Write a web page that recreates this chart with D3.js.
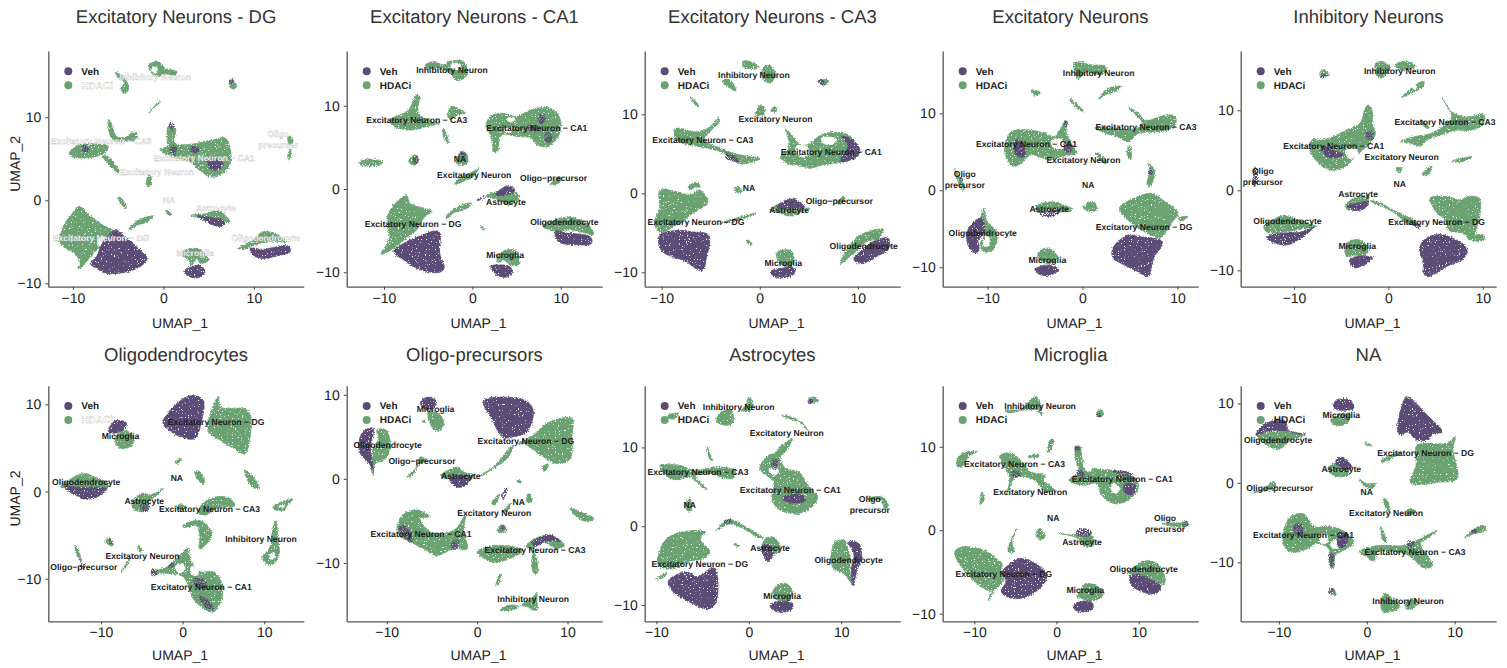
<!DOCTYPE html>
<html>
<head>
<meta charset="utf-8">
<script src="https://cdn.jsdelivr.net/npm/d3@7"></script>
<style>
  body { margin: 0; background: #fff; }
  text { font-family: "Liberation Sans", Arial, sans-serif; text-rendering: geometricPrecision; }
</style>
</head>
<body>
<div id="chart"></div>
<script>
// Label order used by every *LabelX / *LabelY array below
const cellTypes = ["Inhibitory Neuron", "Excitatory Neuron \u2212 CA3", "Excitatory Neuron \u2212 CA1", "Excitatory Neuron",
    "Oligo\u2212precursor", "NA", "Astrocyte", "Oligodendrocyte", "Excitatory Neuron \u2212 DG", "Microglia"];
const legendNames = ["Veh", "HDACi"];
const titles = ["Excitatory Neurons - DG", "Excitatory Neurons - CA1", "Excitatory Neurons - CA3", "Excitatory Neurons", "Inhibitory Neurons",
    "Oligodendrocytes", "Oligo-precursors", "Astrocytes", "Microglia", "NA"];
const ticks = [-10, 0, 10];

// Excitatory Neurons - DG
const dgLabelX = [-.9, -6.9, 4.5, -.7, 12.7, .6, 5.8, 11.3, -6.9, 3.5];
const dgLabelY = [14.8, 7.2, 5.1, 3.4, 7.3, 0, -.9, -4.5, -4.6, -6.3];
const dgHdaci = [
    [[-9.3,-.7],[-8.4,-1.6],[-7,-2.8],[-5.3,-4],[-7,-5.6],[-8.1,-6.8],[-9,-8],[-9.5,-8.2],[-9.2,-7.6],[-9.8,-6.4],[-11.4,-5.2],[-11.1,-3.2],[-10.1,-1.6]],
    [[-10.4,5.7],[-9.4,6.6],[-7.7,6.8],[-6.1,6.5],[-6.3,5.9],[-7.4,5.3],[-9.2,5.1],[-10.2,5.3]],
    [[-6.7,5.3],[-6.3,5.4],[-4.9,3.5],[-5.1,3.4]],
    [[-6.1,9.6],[-5.9,9.6],[-5.2,7.7],[-4.2,7.6],[-3.4,8.2],[-3,8.1],[-3,7.3],[-3.9,7.1],[-5.6,7.3]],
    [[.55,8.9],[1.3,8.7],[1.3,6.9],[2.6,6.7],[5.5,7.3],[6.8,7.5],[7.4,6.1],[7.4,4.5],[6.6,3.3],[5.3,2.8],[4.1,3.5],[3.1,4.5],[2.2,4.9],[.4,5.5],[-.4,6.1],[.4,6.5],[.4,7.7]],
    [[-1.66,16.3],[-.55,16.7],[.2,15.9],[1.5,15.5],[1.3,15.1],[0,15.2],[-.55,14.9],[-1.3,15.3],[-1.5,15.7]],
    [[-5.2,15.4],[-4.1,14.4],[-3.9,13.2],[-4.5,12.9],[-4.7,13.5],[-4.3,14.2],[-5.2,15]],
    [[-1.5,10.6],[-.4,12],[-.3,11.9],[-1.3,10.9],[-1.6,10.4]],
    [[7.4,14.5],[7.9,14.2],[8.1,13.7],[7.7,13.4],[7.3,13.7]],
    [[-1.9,2.2],[-1.6,3],[-1.4,2.9],[-1.4,1.8],[-1.8,1.7]],
    [[13.8,7.7],[14.2,7.6],[14.3,6.9],[14,6.7],[13.8,7]],
    [[14,6.2],[14.1,6],[13.9,4.9],[13.7,4.9]],
    [[-5,.4],[-4.6,.2],[-4.1,-.9],[-4.4,-.8],[-5,.1]],
    [[-3.9,-3.6],[-2.8,-2.4],[-1.1,-1.9],[-1.8,-2.6],[-2.9,-3],[-3.8,-3.6]],
    [[.3,-1.2],[.9,-1.7],[.6,-1.8],[.3,-1.4]],
    [[3,-1.8],[4.8,-1.6],[5.9,-1.2],[7,-2],[7.4,-2.7],[6.7,-2.6],[5.5,-2],[4.8,-2.2]],
    [[8.3,-5.8],[9.9,-4.8],[11,-3.8],[12.3,-4],[13.6,-5],[12,-4.9],[10,-5.4],[9,-5.9]],
    [[2.2,-6.2],[3.1,-5.8],[4.1,-6],[5,-7.2],[4.1,-7.6],[3.7,-7],[3.1,-7.8],[2.6,-7],[2.2,-6.8]]
];
const dgVeh = [
    [[-5.3,-3.6],[-4.05,-4.6],[-2.6,-6],[-1.8,-7],[-2.6,-8],[-4.4,-8.7],[-6.3,-8.8],[-7.4,-8.2],[-8.1,-7.6],[-7.4,-6.8],[-6.8,-5.2],[-5.9,-4]],
    [[.7,9.3],[1.2,9],[1,8.5],[.7,8.7]],
    [[.8,6.5],[1.4,6.4],[1.2,5.4],[.7,5.7]],
    [[3.1,6.5],[4,6.2],[3.6,5.7],[3,5.9]],
    [[4.9,4.8],[6,4.9],[6.6,4.4],[6,3.7],[5.3,3.7]],
    [[-9,6.5],[-8.3,6.6],[-8.4,5.9],[-9,6]],
    [[7.4,14.6],[7.8,14.4],[7.6,14.1],[7.3,14.2]],
    [[3.7,-1.9],[4.8,-2],[5.9,-2.2],[6.8,-2.6],[6.5,-3.1],[5.5,-3],[4.8,-2.6]],
    [[9.6,-5.8],[11,-5.9],[13.8,-5.5],[14,-6.2],[12.5,-6.7],[10.9,-7],[9.8,-6.5]],
    [[2.3,-8.5],[3.1,-8],[4.1,-7.9],[4.6,-8.6],[3.9,-9.3],[2.9,-9.2]]
];
const dgGaps = [
    [[1.3,7.6],[1.9,7.4],[1.7,6.9],[1.3,7]],
    [[-7.2,-4.7],[-6.6,-4.4],[-6.2,-4.9],[-7.2,-5.5]],
    [[-1.2,16],[-.7,16],[-.8,15.4],[-1.2,15.4]]
];

// Excitatory Neurons - CA1
const ca1LabelX = [-2.3, -6.3, 7.3, .2, 9.2, -1.4, 3.8, 10.4, -6.7, 3.7];
const ca1LabelY = [14.3, 8.3, 7.3, 1.7, 1.3, 3.6, -1.6, -4, -4.2, -7.9];
const ca1Hdaci = [
    [[-5.4,14.8],[-4.4,15.3],[-3.3,14.9],[-2.7,15.3],[-1,15.3],[-.6,13.7],[-1.8,13],[-2.3,13.7],[-3.5,14.5],[-4.8,14.4]],
    [[-9.3,8.3],[-8.2,8.9],[-7.2,9.5],[-6.3,11.4],[-6,11.1],[-6.1,9.1],[-4.6,8.1],[-3.7,7.9],[-5.2,7.5],[-6.7,7.1],[-8.4,7.3],[-9.1,7.7]],
    [[-2.8,8.9],[-2.3,9.9],[-1.6,9.7],[-.8,9.1],[-1.8,8.9],[-2.5,8.3]],
    [[-3.4,7.1],[-3.2,7.1],[-2.7,5.5],[-2.9,5.5]],
    [[-12.8,3.2],[-11.8,3.6],[-10.1,3.2],[-11,2.8],[-12.7,2.9]],
    [[-7.2,3.4],[-6.5,4.1],[-6.1,3.5],[-6.5,2.9],[-7.1,3.1]],
    [[-1.6,4.1],[-1.2,4.5],[-.6,4.1],[-.6,3.1],[-1.8,3.1]],
    [[-2,.5],[-1.6,1.2],[.1,2.1],[.7,2.5],[.1,1.5],[-.6,1.1],[-1.6,.7]],
    [[8.8,.5],[9.9,1.5],[10,.9],[9.2,.5]],
    [[1.6,-.9],[2.9,-.3],[3.9,-.7],[4.6,-.3],[5.3,-.9],[4.6,-1.7],[3.9,-1.9],[2.9,-1.3]],
    [[-3,-3.3],[-1.4,-2],[-.1,-1.7],[-.6,-2.3],[-2.2,-2.9],[-2.9,-3.5]],
    [[-7.4,-.7],[-7.1,-1.7],[-4.6,-2.7],[-5.4,-3.3],[-6.3,-4.9],[-7.4,-5.8],[-8.9,-7.1],[-10.3,-7.8],[-9.5,-6.1],[-9.6,-3.3],[-8.9,-1.9],[-7.8,-.9]],
    [[.9,-4.5],[1.4,-4.8],[1.2,-4.9],[.9,-4.6]],
    [[2.8,-8.1],[3.9,-7.3],[5,-7.5],[5.3,-9.1],[4.3,-9.1],[3.5,-8.5],[3,-8.9]],
    [[8,-4.5],[9.9,-3.5],[11.8,-3.5],[13.3,-4.5],[13.7,-5.5],[12.9,-5.3],[11.1,-4.9],[9.5,-5.1]],
    [[2,8.7],[3.3,9.1],[5,8.7],[6.2,9.3],[7.7,9.8],[9.2,9.5],[10,8.1],[9.7,6.3],[8.6,5.1],[7.3,5.3],[6.7,6.1],[5,6.3],[3.3,6.5],[2.8,4.5],[2.4,4.5],[2.2,5.9],[1.6,7.7]]
];
const ca1Veh = [
    [[2.6,-.7],[3.1,-.1],[4.1,.4],[4.8,-.1],[4.5,-.5],[3.7,-.7]],
    [[.5,-1.3],[1.6,-.8],[1.6,-.9],[.5,-1.4]],
    [[-8.9,-7.5],[-7.4,-6.3],[-6.3,-5.8],[-3.8,-5.1],[-3.7,-7.7],[-3.2,-9.5],[-3.7,-10],[-5.9,-9.7],[-7.8,-8.5]],
    [[2.1,-9.3],[3.1,-9.1],[4.3,-9.4],[4.5,-10.1],[3.7,-10.6],[2.6,-10.2]],
    [[9.4,-5.1],[10.7,-5.3],[13.3,-5.7],[13.5,-6.5],[11.8,-6.7],[9.7,-6.3]],
    [[7.6,8.9],[8.2,8.8],[8,7.8],[7.6,8]],
    [[8.4,6.8],[9,6.4],[8.7,5.6],[8.2,5.9]],
    [[6.3,7.6],[7.4,7.5],[7.3,7],[6.4,7.1]],
    [[-6.7,3.8],[-6.2,3.9],[-6.3,3],[-6.7,3.1]],
    [[-1.4,4.4],[-.8,4.3],[-.9,3.8],[-1.4,3.9]]
];
const ca1Gaps = [
    [[4,8.5],[4.8,8.5],[4.6,8.1],[4,8.2]],
    [[3.6,7.2],[4.5,7.3],[4.3,6.8],[3.6,6.9]],
    [[-2.4,15],[-1.4,15],[-1.5,14.4],[-2.4,14.5]]
];

// Excitatory Neurons - CA3
const ca3LabelX = [-.6, -5.8, 7.3, 1.6, 8.1, -1.1, 3, 10.6, -6.5, 2.4];
const ca3LabelY = [15, 6.7, 5.2, 9.4, -1, .7, -2.1, -6.7, -3.6, -8.8];
const ca3Hdaci = [
    [[-1.7,16.7],[-.8,16.6],[-.1,16],[-1.2,15.8],[-1.7,16]],
    [[.4,16],[1.1,16.1],[1.6,15],[1.1,14],[.4,14.3],[.2,15.2]],
    [[-3.7,14.4],[-3,14.3],[-2.4,12.9],[-3,13.3],[-3.7,13.9]],
    [[6,14.3],[7,14.3],[6.7,13.7],[6.2,13.9]],
    [[-7.1,12.2],[-6.9,12.1],[-6.2,11],[-6.4,11]],
    [[-.4,9.9],[.1,11.2],[.5,10.8],[.4,9.9]],
    [[1.2,10.7],[1.7,11],[1.6,10.3],[1.2,10.3]],
    [[-8.6,8.2],[-6.8,7.8],[-6.3,7.8],[-5.1,8.4],[-4.2,9.6],[-4.1,9.1],[-5.1,7.8],[-5.7,6.8],[-4,5.7],[-2.2,4.9],[0,4.4],[-.6,4],[-2.2,3.8],[-3.7,5.1],[-6.1,5.9],[-7.8,6.3],[-8.6,7]],
    [[2.6,8.2],[3.4,7.2],[4.1,6.1],[5.1,6.3],[6,7.2],[7.2,7.7],[9,7.4],[10.2,5.5],[10.1,4.9],[8.5,4],[6.5,3.6],[5.1,3.2],[3.8,3.6],[3.1,3.6],[2.1,4.6],[2.9,5.7],[2.9,7]],
    [[-2.6,.6],[-2.2,.9],[-1.8,.2],[-2.4,.1]],
    [[-7.3,.8],[-6.4,1.4],[-6.1,.8],[-6.6,.8],[-7.1,.4]],
    [[-10.2,.4],[-8.5,.2],[-7.1,-.2],[-6.1,.4],[-5.3,-1.1],[-6.8,-2.5],[-8.5,-4],[-10.2,-4.9],[-10.7,-3.8],[-10.2,-1.7]],
    [[-4,-3.8],[-2,-3],[-.3,-2.5],[-2,-3.3]],
    [[1.1,-2.1],[2.1,-1.3],[3.9,-1.9],[5,-1.9],[4.1,-2.5],[3.1,-2.9],[2.1,-2.5]],
    [[7.9,-1.3],[8.5,-.4],[8.7,-.6],[8.2,-1.4]],
    [[-1.3,-5.9],[-.8,-6.3],[-.9,-6.6],[-1.3,-6.2]],
    [[8.2,-8.9],[9.6,-5.9],[10.9,-4.9],[12.6,-4.6],[12.1,-5.7],[10.9,-6.1],[9.6,-7.6]],
    [[1.7,-7.6],[2.2,-7.2],[3.3,-7.4],[3.4,-8.9],[2.8,-9.3],[2.1,-8.9]]
];
const ca3Veh = [
    [[6,14.3],[6.5,14.3],[6.5,13.7],[6.1,13.9]],
    [[8.4,7.2],[9.4,6.8],[10.2,5.5],[9.6,4.4],[8.2,4],[8.5,4.9],[9,5.9]],
    [[-10.2,-5.3],[-8.5,-4.7],[-6.8,-4.9],[-5.2,-5.3],[-5.4,-8],[-5.9,-9.8],[-7.6,-8.6],[-9.7,-7.6],[-10.2,-6.8]],
    [[1.7,-1.7],[2.8,-.8],[3.6,-.8],[4.6,-1.7],[3.8,-1.9],[2.4,-1.9]],
    [[9.6,-8.4],[10.2,-7.4],[11.9,-5.9],[13.1,-5.7],[13.1,-7],[11.6,-8.2],[10.4,-8.9]],
    [[1.1,-9.9],[2.1,-9.5],[3.6,-9.5],[3.4,-10.3],[2.1,-10.7],[1.4,-10.5]],
    [[-3.5,5],[-2.4,4.6],[-2.2,4],[-3.4,4.4]]
];
const ca3Gaps = [
    [[3.7,5.9],[4.8,5.9],[5,4.9],[4,4.7]],
    [[6.3,7],[7.8,6.9],[7.5,6.2],[6.4,6.4]]
];

// Excitatory Neurons
const excLabelX = [1.7, 6.7, -5.9, .1, -12.4, .6, -3.5, -10.5, 6.5, -3.7];
const excLabelY = [15.2, 8.2, 6, 3.9, 1.4, .7, -2.4, -5.5, -4.8, -9];
const excHdaci = [
    [[-.9,16.5],[-.3,16.7],[.8,16.3],[2.4,16.1],[2.5,15.4],[1.5,15],[.6,15.4],[-.5,14.5],[-.8,15.4]],
    [[1.7,11.8],[2.7,13.2],[4.1,13.5],[3.6,12.9],[2.4,12.4]],
    [[-5.4,13],[-4.4,12.7],[-5,12.3]],
    [[-1.3,11.9],[.1,10.3],[-.1,10.3],[-1.3,11.7]],
    [[4.8,10.8],[5.9,10],[6.6,9.1],[9,9.8],[9.8,9.5],[9.7,8.3],[8,7.6],[5.9,7.4],[4.8,6.3],[3.8,6.9],[2.4,7.4],[1.3,8.1],[2.7,8.2],[4.5,7.9],[6,8.2],[6.3,8.8],[5.5,9.9]],
    [[4.8,5.7],[5,5.7],[5.1,4.1],[4.8,4.2]],
    [[1.4,4.8],[1.7,4.8],[2.6,3.6],[2.3,3.5]],
    [[-8.2,5.7],[-7.5,7.6],[-5.4,7.8],[-4,7.4],[-2.9,7],[-2.2,8.3],[-1.7,9],[-1.7,7.4],[-1.2,6.1],[-.6,4.8],[-2.2,4.4],[-3.6,4],[-5.4,4.6],[-6.5,3.5],[-7.2,3.1],[-8,4.2]],
    [[-13.5,2.8],[-13,1.8],[-12.4,.3],[-12.6,0],[-13.3,1.8]],
    [[6.9,3.5],[7.6,2.6],[7.1,.5],[6.8,.7],[7.1,2.6]],
    [[.1,-2.3],[.8,-1.5],[1.3,-1.7],[1.5,-2.6],[.4,-2.6]],
    [[3.9,-2.3],[5.9,-.8],[7.3,-.4],[8.5,-1.3],[10.1,-3],[9.6,-3.9],[8.7,-5.6],[8.2,-6.2],[6.6,-5.4],[5.2,-4.3]],
    [[10.1,-3.6],[11.1,-3.4],[10.4,-4]],
    [[-4.9,-2.1],[-3.3,-1.5],[-2,-1.9],[-1,-2.5],[-2,-2.8],[-3.6,-2.8],[-4.9,-2.6]],
    [[-10.4,-2.3],[-10.1,-3.9],[-9,-5.6],[-9.4,-7.7],[-10.3,-8],[-10.8,-7.1],[-10.3,-5.6],[-10.7,-3.9]],
    [[-4.7,-8.2],[-3.8,-7.5],[-2.8,-8.2],[-2.9,-9.3],[-3.8,-9.5],[-4.5,-9]]
];
const excVeh = [
    [[-7,6.5],[-6.3,6.1],[-6.1,4.4],[-7,4.6]],
    [[-1.9,6.1],[-1.2,6],[-1.2,5],[-1.9,5.1]],
    [[-1.9,9],[-1.6,8.9],[-1.7,8.2],[-1.9,8.3]],
    [[7,2.7],[7.3,2.6],[7.2,2],[7,2]],
    [[3.2,-7.5],[4.8,-5.8],[5.9,-6],[8.4,-6.7],[7.5,-8.8],[6.9,-11.2],[5.9,-10.6],[4.1,-9.5],[3.2,-8.8]],
    [[-4.7,-2.8],[-3.6,-2.8],[-2.4,-2.6],[-3.1,-3.4],[-4,-3.4]],
    [[-12.1,-5.2],[-10.7,-3.6],[-10.3,-5.4],[-11,-6.5],[-10.9,-7.9],[-11.6,-8],[-12.1,-6.9]],
    [[-5,-10.3],[-3.8,-9.7],[-2.5,-10.3],[-3.6,-11.1],[-4.7,-10.8]],
    [[-13,1.8],[-12.7,1.6],[-12.7,1.2],[-13,1.4]]
];
const excGaps = [
    [[-3.3,6.4],[-2.2,6.6],[-2,5.6],[-3,5.5]],
    [[-10.3,-6.2],[-9.9,-6],[-9.9,-7.2],[-10.4,-7.2]]
];

// Inhibitory Neurons
const inhLabelX = [1.2, 6, -5.8, 1.4, -13.3, 1.2, -3.2, -10.7, 5.1, -3.3];
const inhLabelY = [14.9, 8.5, 5.5, 4.2, 1.7, .8, -.5, -3.8, -4, -7];
const inhHdaci = [
    [[-1.4,15.7],[-.8,16.1],[.2,15.3],[-.8,14],[-1.2,14.4]],
    [[.7,15.7],[1.8,16.1],[2.9,15.5],[1.6,15],[.9,15.3]],
    [[-7.2,14.8],[-6.9,15.1],[-6.3,14.4],[-7.2,14.3]],
    [[1.4,11.6],[2.7,13],[3.7,13.6],[3.7,13],[2.7,12.3]],
    [[5.7,11.5],[6.9,9.6],[8.7,9.2],[10.1,9.5],[10,8.2],[8.7,7.5],[7.1,7.5],[5.5,6.9],[4.1,6.3],[3.4,5.5],[2.3,5.9],[1.3,6.1],[2.7,6.7],[4.5,7.1],[6,8.2],[6.7,9.2]],
    [[3.4,8.8],[4.3,7.8],[4.1,7.7],[3.4,8.6]],
    [[6.7,3.6],[8.9,4.2],[7.6,3.5]],
    [[3.6,2.1],[4.6,3],[4.3,2.1],[3.7,1.8]],
    [[.9,2.8],[1.4,2.8],[1.3,2.3],[.9,2.3]],
    [[-8.1,6.3],[-6.9,6.3],[-4.4,7.5],[-3,8.4],[-2.3,10.5],[-1.8,10.3],[-1.7,8.4],[-1.4,6.9],[-3.5,4.2],[-4.7,2.9],[-6,2.5],[-7.2,3.2],[-8.1,4.4],[-8.4,5.5]],
    [[-4.6,-2],[-3.7,-1],[-2.1,-.8],[-2.3,-1.6],[-3.3,-1.6],[-4.2,-2.5]],
    [[-1.9,-1.3],[-.8,-1.6],[.2,-2.3],[2.3,-3.5],[3.4,-4.5],[2,-4.1],[.7,-2.9],[-.1,-2.3],[-1.7,-1.5]],
    [[4.4,-1],[6.2,-.8],[7.6,-1.2],[8.3,-.8],[9.6,-1],[9.6,-3.7],[8.7,-6.2],[8,-5.4],[6.4,-5],[5.9,-3.5],[5.2,-2.9]],
    [[8.7,-5.8],[10.1,-5.6],[10.1,-6.2],[9,-6.3]],
    [[-13.2,-4.5],[-12.3,-3.7],[-11.1,-3.2],[-9.7,-3.7],[-7.7,-4.5],[-9,-4.8],[-11.1,-5.2],[-12.9,-5.2]],
    [[-4.6,-7.5],[-4.2,-6.4],[-3.1,-6.2],[-2.1,-7.3],[-2.6,-8.3],[-3.5,-8.1],[-4.4,-8.3]]
];
const inhVeh = [
    [[-7,5.5],[-5.8,5],[-4.7,4.4],[-6.5,4.2]],
    [[-2.3,7.3],[-1.7,7.3],[-1.7,6.3],[-2.3,6.5]],
    [[-14.2,2.8],[-14,2.8],[-14,.6],[-14.3,.5]],
    [[-4.4,-2],[-3.5,-1.7],[-2.1,-1.4],[-2.6,-2.3],[-3.7,-2.5]],
    [[3.4,-6.8],[4.3,-5.8],[5.9,-5.6],[8.3,-7.3],[8,-8.5],[6.2,-9.5],[4.1,-10.8],[3.7,-10.2],[3.7,-9.1],[3.4,-8]],
    [[-12.9,-5.8],[-11.8,-5.4],[-9.3,-5.2],[-7.9,-4.6],[-9.3,-6],[-10.7,-6.8],[-12.3,-6.5]],
    [[-4.1,-8.7],[-3.5,-8.3],[-1.7,-8.4],[-2.3,-9.1],[-3.5,-9.7],[-4,-9.3]],
    [[-7.2,14.4],[-6.6,14.4],[-6.7,14.1],[-7.2,14.1]],
    [[2.6,-4],[3.4,-4.5],[3.2,-4.8],[2.6,-4.3]]
];
const inhGaps = [
    [[-4.5,5],[-3.5,5.2],[-3.2,4.3],[-4.2,4]],
    [[2.5,12.9],[3,13],[2.8,12.6]]
];

// Oligodendrocytes
const oliLabelX = [9.6, 3.3, 2.3, -4.9, -12.1, -.7, -4.7, -11.8, 4.1, -7.6];
const oliLabelY = [-5.4, -2, -11, -7.4, -8.7, 1.6, -1.1, 1.1, 8, 6.4];
const oliHdaci = [
    [[3.1,7],[3.7,9.7],[4.4,10.9],[4.6,9.7],[7.6,9.5],[8.3,8.8],[8.3,6.5],[7.6,4.3],[6.2,5],[4.2,6.1]],
    [[-8.3,6.1],[-7.1,7],[-6,6.3],[-6.2,5.3],[-7.3,4.9],[-8.1,5.3]],
    [[-15,.5],[-13.6,1.5],[-12.2,2.1],[-10.4,1.5],[-9.1,.9],[-9.3,.3],[-10.9,.5],[-13.4,.5]],
    [[-6.2,-1.4],[-5,-.2],[-4,-.4],[-2.4,.3],[-3.4,-.6],[-4.2,-1.2],[-4.2,-2.1],[-5.2,-2.3],[-6,-2]],
    [[-.9,3.4],[-.1,3.8],[-.2,3.5],[-.9,3.2]],
    [[1.5,2.3],[2.1,2.3],[2.7,.9],[2.1,1.1]],
    [[7.6,2.5],[9.1,1.1],[9.4,.3],[8.4,.7],[7.8,1.7]],
    [[1.9,-2.3],[2.7,-1.2],[4.2,-.6],[5.8,-.8],[6.4,-1.6],[4.2,-1.9],[2.7,-2.7]],
    [[0,-3.9],[1.7,-3.3],[2.5,-3.5],[3.6,-5],[2.1,-6.6],[2.1,-5],[1.7,-3.9],[.5,-4.1]],
    [[-.7,-1.6],[.3,-1.6],[.3,-2],[-.7,-2]],
    [[11.1,-1.8],[12.1,-1.2],[13.5,-.9],[12.8,-1.6],[12.5,-2.1],[11.3,-2.1]],
    [[10.9,-5],[11.4,-3.3],[11.7,-5.4],[11.8,-7.3],[10.9,-8.4],[9.7,-7.7],[10.5,-6.7],[10.9,-5.9]],
    [[-9.5,-5.8],[-8.9,-5.3],[-8.6,-6.2],[-9.3,-6]],
    [[-13.1,-6.2],[-12.4,-8.1],[-12.5,-8.1],[-13.2,-6.3]],
    [[-5.4,-6.2],[-4.9,-6.9],[-5.2,-6.9],[-5.5,-6.4]],
    [[-7.5,-9.2],[-6.4,-7.5],[-6.8,-8.5]],
    [[-3.8,-9.2],[-2,-8.7],[.1,-6.9],[.7,-6.5],[.9,-7.7],[2.1,-9.2],[3.8,-9.2],[4.8,-10.6],[4.8,-12.3],[3.8,-13.8],[2.9,-13.6],[1.3,-12.3],[.7,-10.6],[-.3,-9.6],[-1.9,-9.4]]
];
const oliVeh = [
    [[-2.4,7.9],[-.7,10.1],[1.1,11],[2.5,10.5],[2.3,8],[1.5,6.1],[.3,6.1],[-1.6,7]],
    [[-9.1,6.9],[-8.3,8.1],[-6.9,7.9],[-7.1,7.2],[-8.3,6.7]],
    [[-14.4,.5],[-12.6,.5],[-9.3,.3],[-10.1,-.4],[-11.8,-.9],[-13.2,-.4]],
    [[-5.2,-1.6],[-4.2,-1.4],[-4.2,-2.1],[-5,-2.3]],
    [[2,-12],[3,-12.4],[3.8,-13.5],[2.9,-13.3]],
    [[-3.9,-9],[-3.2,-9],[-3.2,-9.6],[-3.8,-9.6]],
    [[1.4,-10],[2.6,-10.2],[2.9,-11],[1.6,-10.8]],
    [[-2,-8.7],[-1.2,-8.2],[-1.1,-8.6]],
    [[-12.5,-8.3],[-12,-8.3],[-12.1,-8.8],[-12.5,-8.7]],
    [[-9,-5.5],[-8.7,-5.6],[-8.6,-6.2],[-8.9,-6]]
];
const oliGaps = [
    [[-.9,-8.6],[0,-8.3],[.3,-9],[-.5,-9.3]],
    [[1.1,-8.6],[1.9,-9],[1.8,-9.6],[1,-9.4]],
    [[11.8,-1.7],[12.5,-1.5],[12.3,-1.9]],
    [[10.8,-7.2],[11.2,-7],[11.2,-7.7],[10.7,-7.7]]
];

// Oligo-precursors
const opcLabelX = [6.2, 6.4, -6.2, 1.9, -6.1, 4.6, -1.8, -9.9, 5.4, -4.6];
const opcLabelY = [-14.3, -8.4, -6.5, -4.1, 2.1, -2.7, .3, 4, 4.5, 8.3];
const opcHdaci = [
    [[-5.4,8],[-4.3,7.8],[-3.7,6.8],[-3.9,6],[-4.6,5.7],[-5.2,6.6]],
    [[-6.1,6.8],[-5.8,7],[-5.8,6.7]],
    [[-11.1,5.8],[-10.1,5.8],[-9.6,3.6],[-10.4,2.2],[-11.3,1.8],[-11.5,.4],[-11.7,1.2],[-11.5,3.6],[-10.9,4.8]],
    [[-7.8,.2],[-6.7,1.4],[-6.3,2.6],[-5.6,2.2],[-6.5,1.6],[-7.2,.4]],
    [[-4,.4],[-2.1,1.4],[-1.5,.8],[-.4,.4],[-1.1,-.4],[-2.6,-.2]],
    [[.3,.4],[1.8,1.4],[3.7,3.8],[4,4],[3.3,2.4],[2,1.4],[.5,.4]],
    [[4.6,4.2],[6.2,5.2],[7.7,6.6],[10.5,7.2],[10.5,5.2],[10.3,2.4],[9,1.8],[7.3,2.6],[5.5,4]],
    [[7.2,1.4],[7.9,1.8],[7.5,.9]],
    [[4.4,-.2],[4.9,-.3],[4.9,-.5],[4.5,-.4]],
    [[5.7,-1.7],[6.1,-2.7],[5.5,-2.7]],
    [[1.6,-2.9],[2.4,-1.9],[2,-3.1]],
    [[2.9,-3.9],[3.7,-2.9],[3.3,-3.9]],
    [[2.2,-6.1],[2.9,-5.5],[3.3,-6.1],[2.5,-6.4]],
    [[10.3,-3.5],[11.8,-4.1],[12.9,-4.7],[12.3,-5.1],[11,-4.5]],
    [[-8.8,-5.5],[-8,-4.1],[-6.7,-3.7],[-5.2,-4.5],[-6.3,-4.7],[-5.2,-6.3],[-3.7,-6.5],[-2.3,-5.9],[-1.3,-4.3],[-1.5,-6.3],[-1.1,-8.3],[-2.6,-8.3],[-4.5,-9.1],[-5.9,-8.3],[-7.4,-7.5],[-8.7,-6.7]],
    [[5.4,-8],[6.6,-7],[8.1,-6.7],[9.7,-7.9],[8.8,-8.3],[7.3,-7.5],[5.9,-8.3]],
    [[6.2,-8.7],[6.6,-9.5],[6.6,-11.3],[6.2,-11.1]],
    [[0,-8.7],[2.2,-7.9],[5.1,-8.5],[2.4,-9.9],[1.6,-9.9]],
    [[2.1,-12.6],[2.6,-11.2],[2.4,-12.5]],
    [[2.5,-15.6],[3.7,-15],[4.6,-15.2],[3.7,-15.6]],
    [[4.9,-15],[6.1,-14.2],[6.6,-13.5],[6.6,-14.4],[6.6,-15.6],[5.5,-15.2]]
];
const opcVeh = [
    [[-6.3,9],[-5.8,9.6],[-4.8,9.6],[-4.6,8.8],[-5.3,8.2],[-5.9,8.4]],
    [[-12.4,5.8],[-11.5,6],[-11.8,3.6],[-11.5,.8],[-11.8,1.6],[-13,3.2],[-13,4.8]],
    [[-3,0],[-.8,.2],[-1.3,-.8],[-2.1,-1],[-2.8,-.6]],
    [[.7,9.3],[5.1,9.4],[6.2,8.2],[5.5,5.6],[4,5],[2.9,4.9],[1.6,7.2]],
    [[-8.7,-5.9],[-7.4,-7.5],[-7.2,-6.9],[-8.2,-5.5]],
    [[-2.8,-7.5],[-2.1,-7.3],[-2.3,-8.3],[-2.8,-8.3]],
    [[6,-7.6],[8,-6.7],[9.2,-7.4],[7.6,-7.4],[6.4,-8]],
    [[2.7,-1.9],[3.3,-1],[2.9,-2.5]],
    [[2.5,-5.6],[3,-5.6],[2.8,-6.1]]
];
const opcGaps = [
    [[-5,-5.2],[-4.3,-5.4],[-4.5,-6],[-5,-5.9]]
];

// Astrocytes
const astLabelX = [-1.1, -5.5, 4.5, 4.1, 13.1, -6.4, 2.3, 10.8, -5.3, 3.6];
const astLabelY = [15.1, 6.9, 4.6, 11.8, 2.8, 2.7, -2.7, -4.3, -4.8, -8.9];
const astHdaci = [
    [[6.5,16.2],[7,16.4],[7.5,16],[6.8,15.6],[6.5,15.6]],
    [[-.4,15.2],[0,16.4],[.3,16],[.3,14.7],[-.8,14.7]],
    [[-3.3,14.1],[-2.6,14.7],[-1.9,14.7],[-1.7,13.3],[-2.4,12.8],[-3.5,13.3]],
    [[-8.7,14.1],[-7.6,14.3],[-8,13.7],[-8.7,13.7]],
    [[3.6,14.1],[5.6,13.3],[6.6,11.8],[5.6,13.1],[3.6,14]],
    [[-4.5,10.1],[-4,8.6],[-3.8,8.3],[-4.2,8.5]],
    [[-9.6,7.7],[-7.4,7.7],[-6,7.1],[-3.8,7.5],[-3.1,7.5],[-1.5,7.1],[-1.7,6.1],[-2.6,6.1],[-4.2,6.7],[-5.8,6.3],[-4.5,4.7],[-4.9,4.8],[-6.4,6.3],[-7.8,5.9],[-9.1,6.5]],
    [[-6.9,2.7],[-6.4,3.5],[-6.2,2],[-6.5,1.8]],
    [[3.6,10.3],[4.7,11.1],[4,9.5],[3.4,8.8],[4,7.3],[5.4,6.9],[6.6,4.8],[7.4,3.9],[7.2,2.9],[5.9,1.8],[4.7,1.6],[3.2,2.2],[2.5,3.5],[2.7,5.6],[1.2,7.3],[2.1,9],[2.7,9.2]],
    [[12.8,3.5],[14.4,3.7],[15.1,2.7],[14.8,2.2],[14.2,3.3],[13.1,3.3]],
    [[-3.5,-.5],[-2.6,.6],[-1.8,.8],[-.6,.1],[.9,-.9],[1.6,-1.6],[.9,-1.4],[-.6,-.3],[-2,.3],[-2.9,-.1]],
    [[1.8,-1.6],[2.7,-1.4],[3.4,-2.6],[2.7,-3.7],[2,-3.7],[1.4,-3]],
    [[-1.6,-2.2],[-1,-2.4],[-1.3,-2.6]],
    [[-9.8,-3.7],[-8.9,-1.6],[-7.1,-.7],[-4.7,-.7],[-5.3,-1.6],[-4.2,-3.3],[-4.9,-4.1],[-6.7,-4.5],[-8.2,-5.4],[-9.8,-5]],
    [[-10.1,-6.7],[-8.9,-5.9],[-9.1,-6.4]],
    [[9.3,-2],[10.4,-1.8],[10.7,-2.8],[11,-4.2],[10.9,-5.6],[11.3,-7.5],[10.3,-6],[9.2,-5.4],[8.9,-4.2],[9,-3]],
    [[2.6,-8.3],[3.2,-7.4],[4.1,-7.3],[4.7,-8.3],[4.1,-9.6],[2.9,-9.2]]
];
const astVeh = [
    [[6.5,16],[6.9,16.1],[6.8,15.6],[6.5,15.6]],
    [[2.7,8.6],[3.1,8.3],[2.9,7.2],[2.5,7.4]],
    [[3.6,3.6],[5.8,4],[6,3.2],[4.4,3]],
    [[-2.7,.7],[-1.9,.8],[-1.9,.5],[-2.6,.4]],
    [[1.4,-2.6],[2.3,-2.4],[2.5,-3.9],[2,-4.5],[1.6,-3.7]],
    [[-8.7,-6.9],[-6.7,-5.8],[-5.6,-6.4],[-3.8,-5.2],[-3.4,-6.4],[-3.6,-9.8],[-4.4,-10.5],[-6.4,-9.6],[-8.2,-8.3]],
    [[10.8,-2],[11.9,-2.2],[12.2,-4.1],[11.7,-5.6],[11.3,-7.5],[11.1,-5.4],[11.4,-3.7]],
    [[2.3,-10],[3,-9.6],[4.7,-9.8],[4.7,-10.5],[3.6,-10.9],[2.7,-10.7]]
];
const astGaps = [
    [[2.2,7.2],[3,7.5],[3.2,6.8],[2.5,6.5]]
];

// Microglia
const micLabelX = [-2, -5.1, 8, -3.2, 13.2, -.4, 3.1, 10.6, -6.4, 3.5];
const micLabelY = [14.9, 7.9, 6.1, 4.6, .8, 1.5, -1.4, -4.7, -5.3, -7.1];
const micHdaci = [
    [[-6.3,14.4],[-4.4,14.5],[-2.6,16],[-2.2,15.8],[-1.8,13.8],[-2.4,14.4],[-3.8,14.4],[-5.9,14.1]],
    [[4.9,14.2],[5.5,14.4],[5.7,13.8],[5.1,13.6]],
    [[-.8,10.8],[-.4,10.9],[-.8,9.4],[-1,9.4]],
    [[-12.2,8],[-11.5,9.2],[-9.7,9.4],[-10.7,8.8],[-11.5,7.6],[-12,7.6]],
    [[-3.6,8.8],[-2.2,9.1],[-2.2,8.8],[-3.4,8.7]],
    [[-6.9,9],[-5.4,9.2],[-4.2,8.2],[-3.2,7],[-1.4,6.6],[-1.6,6],[-.2,4.8],[-1.4,4.6],[-2.4,5.8],[-3.8,6.4],[-5,6.4],[-5.4,5.8],[-6.1,4.2],[-5.7,6.2],[-6.3,7.6]],
    [[-9.3,3.4],[-9.1,4.6],[-8.8,3.6],[-9.3,3.2]],
    [[2.3,10],[2.9,10],[3.1,8.6],[4.7,7.4],[6.7,7.2],[8.8,6.8],[10,5.4],[9,3.8],[7,3.2],[5.5,4.2],[4.9,5.6],[3.1,5.4],[1.5,6],[2.7,7],[2.3,8.6]],
    [[-2.5,-.6],[-2.1,.2],[-1.4,-.8],[-2,-1.1]],
    [[-5.9,-2.2],[-4.8,.2],[-5.4,-1.4],[-5.2,-2.6],[-5.8,-2.6]],
    [[12.8,.8],[15.3,.9],[15.9,1],[16,.6],[15.5,.4],[14.1,.5]],
    [[.4,-.4],[2.3,-.6],[3.1,-.4],[4.3,-.6],[4.5,-1.8],[3.1,-1.8],[2.7,-1]],
    [[-12.4,-2.6],[-11.5,-2],[-9.5,-2.2],[-7.5,-3.2],[-6.3,-4.6],[-6.7,-6.4],[-8.3,-7.2],[-10.1,-6],[-11.7,-4.2]],
    [[-8.3,-8.4],[-7.5,-7],[-7.9,-7.4]],
    [[8.6,-5.2],[10.4,-3.8],[12,-3.8],[13.2,-5.8],[13,-6.5],[11.2,-5.6],[9.6,-5.2]],
    [[2.9,-7.2],[3.5,-6.4],[4.7,-6.6],[5.7,-7.6],[4.7,-8.4],[3.1,-8.2],[2.5,-8]]
];
const micVeh = [
    [[4.9,14],[5.3,14],[5.3,13.6],[4.9,13.6]],
    [[6.8,7.1],[8.8,6.9],[9.6,6],[8.4,6.2]],
    [[8.3,5.5],[9.6,5.4],[9.2,4.3],[8.2,4.6]],
    [[2.3,10],[2.8,10],[2.7,9.5],[2.3,9.5]],
    [[2.5,7.2],[3.3,7],[3.1,6.3],[2.6,6.6]],
    [[-5.5,7],[-4.5,7],[-4.4,6.4],[-5.4,6.5]],
    [[15.3,.9],[15.9,1],[16,.6],[15.4,.5]],
    [[2.3,-.2],[3.1,.2],[4.3,-.2],[4.1,-.6],[2.5,-.6]],
    [[-6.7,-5.2],[-5.4,-3.8],[-4.2,-3.4],[-2.2,-4.2],[-1.2,-5.6],[-2.6,-7.4],[-5,-8.2],[-6.7,-7.4],[-6.1,-6]],
    [[9,-5.4],[10.4,-5.4],[12.7,-6.8],[12,-7.6],[10,-7.2],[9,-6.4]],
    [[2.1,-9],[2.7,-8.6],[4.3,-8.6],[4.4,-9.4],[3.1,-9.8],[2.3,-9.6]]
];
const micGaps = [
    [[3.3,8.2],[4.3,7.4],[3.9,7],[3.3,7.6]],
    [[6.9,5.6],[7.7,5],[7.2,4.4],[6.6,5]],
    [[-6.6,-4.4],[-6,-4],[-5.8,-5],[-6.5,-5.6]]
];

// NA
const naLabelX = [4.7, 5.5, -7.2, 2.2, -9.9, 0, -2.9, -10.1, 6.7, -2.9];
const naLabelY = [-14.9, -8.7, -6.6, -3.8, -.7, -1.1, 1.8, 5.4, 3.7, 8.5];
const naHdaci = [
    [[-4.1,7.9],[-3.2,8.6],[-1.9,8.7],[-2.1,7.7],[-3,7.2],[-3.8,7.4]],
    [[-12.5,6],[-11.4,6.3],[-9.1,6.4],[-7.2,6],[-8.9,5.2],[-10,4.2],[-11.4,4.8]],
    [[-.2,5.1],[.6,4.7],[0,4.7]],
    [[-4.4,2],[-3.6,2.4],[-2.2,1.6],[-2.1,1],[-3.4,.8],[-4.3,1.4]],
    [[1.7,2.9],[3.3,3.7],[4,3.9],[2.9,3.1],[1.7,2.6]],
    [[5.7,4.7],[9.2,5],[10.1,5.8],[9.8,4.3],[10.3,.5],[8.4,.1],[5,0],[5.6,2.2]],
    [[-.9,.5],[0,-.1],[1,-.1],[.6,-.7],[0,-.6]],
    [[-13.1,-1.3],[-11.7,-.7],[-10.6,.1],[-10.4,-.1],[-10.6,-.9],[-11.7,-1]],
    [[1.9,-2],[2.3,-2.1],[2.6,-3.7],[2.3,-3.4]],
    [[4.4,-3.7],[5,-3.2],[5.6,-3.7],[4.6,-4.1]],
    [[11.1,-6.9],[13.2,-5.3],[13.5,-6],[12.2,-6.4]],
    [[-.9,-8.7],[1.2,-7.9],[4.2,-7.9],[5.4,-7.4],[8,-6],[6.9,-7],[6.1,-7.6],[7.5,-10.4],[6.5,-10.7],[5,-9.3],[3.5,-8.7],[1.2,-8.7],[.8,-9.9],[0,-9.3]],
    [[1.6,-5.5],[2.2,-7.4],[1.9,-7.4]],
    [[-9.5,-6.2],[-8.7,-4.3],[-7.2,-3.9],[-6,-5.5],[-4.1,-5.5],[-2.2,-6.4],[-1.5,-7.6],[-3,-8.7],[-3.6,-9.1],[-3.8,-10.8],[-4.2,-10.4],[-4.3,-8.3],[-5.7,-7.6],[-6.8,-8.3],[-8.7,-8.7],[-9.5,-7.6]],
    [[-4.3,-13.7],[-3.8,-13.3],[-3.5,-14.2],[-4.1,-13.9]],
    [[1.6,-15],[2.1,-13.9],[2.9,-14.6],[3.8,-15.6],[1.9,-16.3],[1.6,-15.4]],
    [[4.4,-15],[5.4,-14.6],[5.7,-15.4],[4.6,-15.9]]
];
const naVeh = [
    [[-3.8,10],[-3,10.6],[-1.9,10.4],[-1.5,9.4],[-3.6,9.3]],
    [[-12.6,6.2],[-11.5,7.5],[-9.3,7.8],[-8.9,6.6],[-7,6.1],[-9.1,6.5],[-11.3,6.5],[-12.6,6]],
    [[-3.6,2.4],[-3.2,3.2],[-2.4,2.9],[-1.7,2],[-2.2,1.6],[-3.2,2.2]],
    [[3.5,6.9],[4.5,10.8],[5,10.6],[6.9,8.5],[8.6,6.4],[7.6,6.2],[6.9,5.4],[5.7,5.4],[4.6,6.4],[3.8,6]],
    [[-8.2,-5.2],[-7.4,-5.2],[-7.4,-6.4],[-8.2,-6.4]],
    [[-3.1,-6.4],[-2.2,-6.5],[-2.5,-8],[-3.3,-8]],
    [[-4.3,-9],[-3.8,-9],[-3.9,-10.5],[-4.2,-10.4]],
    [[-4.3,-13.4],[-3.9,-13.3],[-3.9,-13.9],[-4.3,-13.9]],
    [[4.7,-7.4],[5.4,-7.4],[5.2,-8.2],[4.6,-8.1]],
    [[11.8,-6.1],[12.4,-5.9],[12.4,-6.3]]
];
const naGaps = [
    [[-5.3,-6.6],[-4.6,-6.4],[-4.5,-7.5],[-5.2,-7.6]],
    [[-4,-7.4],[-3,-7.2],[-3.1,-8.1],[-4,-8.2]]
];

// Set up dimensions
const width = 1507;
const height = 668;
const plotLefts = [48.3, 346.7, 644.7, 942.7, 1240.7];
const plotTops = [51, 385.7];
const plotW = 255.5;
const plotH = 235.7;
const colorVeh = "#5c4b76";
const colorHdaci = "#6aa272";

// One entry per panel; domains are the axis ranges
const panels = [
    { x: [-12.73, 15.52], y: [-10.41, 17.99], hdaci: dgHdaci, veh: dgVeh, gaps: dgGaps, lx: dgLabelX, ly: dgLabelY, twoLine: true, ghost: true, ghostLegend: true },
    { x: [-14.22, 14.69], y: [-11.73, 16.57], hdaci: ca1Hdaci, veh: ca1Veh, gaps: ca1Gaps, lx: ca1LabelX, ly: ca1LabelY },
    { x: [-11.73, 14.32], y: [-11.82, 18.01], hdaci: ca3Hdaci, veh: ca3Veh, gaps: ca3Gaps, lx: ca3LabelX, ly: ca3LabelY },
    { x: [-14.72, 12.19], y: [-12.52, 18.09], hdaci: excHdaci, veh: excVeh, gaps: excGaps, lx: excLabelX, ly: excLabelY, twoLine: true },
    { x: [-15.65, 11.42], y: [-12.05, 17.4], hdaci: inhHdaci, veh: inhVeh, gaps: inhGaps, lx: inhLabelX, ly: inhLabelY, twoLine: true },
    { x: [-16.45, 14.85], y: [-14.9, 12.14], hdaci: oliHdaci, veh: oliVeh, gaps: oliGaps, lx: oliLabelX, ly: oliLabelY, ghostLegend: true },
    { x: [-14.43, 13.84], y: [-16.94, 11.07], hdaci: opcHdaci, veh: opcVeh, gaps: opcGaps, lx: opcLabelX, ly: opcLabelY },
    { x: [-11.27, 16.39], y: [-12.07, 17.83], hdaci: astHdaci, veh: astVeh, gaps: astGaps, lx: astLabelX, ly: astLabelY, twoLine: true },
    { x: [-13.85, 17.24], y: [-10.92, 17.32], hdaci: micHdaci, veh: micVeh, gaps: micGaps, lx: micLabelX, ly: micLabelY, twoLine: true },
    { x: [-14.35, 14.73], y: [-17.44, 12.23], hdaci: naHdaci, veh: naVeh, gaps: naGaps, lx: naLabelX, ly: naLabelY }
];

const svg = d3.select("#chart").append("svg")
    .attr("width", width)
    .attr("height", height)
    .style("display", "block");
const defs = svg.append("defs");

// Rough the blob edges and punch small specks, so they read as dense points
function addGrain(id, freq, seed, cut) {
    const f = defs.append("filter")
        .attr("id", id)
        .attr("filterUnits", "userSpaceOnUse")
        .attr("x", 0).attr("y", 0).attr("width", width).attr("height", height)
        .attr("color-interpolation-filters", "sRGB");
    f.append("feTurbulence").attr("type", "fractalNoise").attr("baseFrequency", freq).attr("numOctaves", 2).attr("seed", seed).attr("result", "noise");
    f.append("feDisplacementMap").attr("in", "SourceGraphic").attr("in2", "noise").attr("scale", 3.5).attr("xChannelSelector", "R").attr("yChannelSelector", "G").attr("result", "rough");
    f.append("feColorMatrix").attr("in", "noise").attr("type", "matrix")
        .attr("values", `0 0 0 0 0  0 0 0 0 0  0 0 0 0 0  9 0 0 0 ${cut}`).attr("result", "specks");
    f.append("feComposite").attr("in", "rough").attr("in2", "specks").attr("operator", "out");
}
addGrain("grain", 0.7, 4, -5.9);
addGrain("sparse", 0.9, 7, -4.5);

panels.forEach((p, i) => {
    const left = plotLefts[i % 5];
    const top = plotTops[Math.floor(i / 5)];
    const g = svg.append("g").attr("transform", `translate(${left},${top})`);

    const x = d3.scaleLinear().domain(p.x).range([0, plotW]);
    const y = d3.scaleLinear().domain(p.y).range([plotH, 0]);
    const line = d3.line().x(d => x(d[0])).y(d => y(d[1])).curve(d3.curveCatmullRomClosed.alpha(0.5));

    const drawBlobs = (parent, polys, color) => parent.append("g")
        .selectAll("path")
        .data(polys)
        .join("path")
        .attr("d", line)
        .attr("fill", color)
        .attr("stroke", color)
        .attr("stroke-width", 0.8)
        .attr("stroke-linejoin", "round");

    // Small Veh patches sit mixed among HDACi cells, so they get the thinner grain
    const isPatch = poly => Math.abs(d3.polygonArea(poly)) < 1.2;
    const blobs = g.append("g").attr("filter", "url(#grain)");
    drawBlobs(blobs, p.hdaci, colorHdaci);
    drawBlobs(blobs, p.gaps, "#fff");
    drawBlobs(blobs, p.veh.filter(d => !isPatch(d)), colorVeh);
    drawBlobs(g.append("g").attr("filter", "url(#sparse)"), p.veh.filter(isPatch), colorVeh);

    // Axes
    const xAxis = g.append("g").attr("transform", `translate(0,${plotH})`)
        .call(d3.axisBottom(x).tickValues(ticks).tickSize(3).tickSizeOuter(0).tickPadding(3));
    const yAxis = g.append("g")
        .call(d3.axisLeft(y).tickValues(ticks).tickSize(3).tickSizeOuter(0).tickPadding(4));
    [xAxis, yAxis].forEach(a => {
        a.selectAll("text").attr("font-size", 14).attr("fill", "#222").style("font-family", '"Liberation Sans", Arial, sans-serif');
        a.selectAll("line").attr("stroke", "#444").attr("stroke-width", 1);
        a.select(".domain").attr("stroke", "#555").attr("stroke-width", 1.3);
    });

    // Titles
    g.append("text")
        .attr("x", plotW / 2)
        .attr("y", i < 5 ? -28 : -25)
        .attr("text-anchor", "middle")
        .attr("font-size", 18.5)
        .attr("fill", "#333")
        .text(titles[i]);
    g.append("text")
        .attr("x", plotW / 2 + 4)
        .attr("y", plotH + (i < 5 ? 41 : 39))
        .attr("text-anchor", "middle")
        .attr("font-size", 14)
        .attr("fill", "#222")
        .text("UMAP_1");
    if (i % 5 === 0) {
        g.append("text")
            .attr("transform", `translate(-28,${plotH / 2 - 5}) rotate(-90)`)
            .attr("text-anchor", "middle")
            .attr("font-size", 14)
            .attr("fill", "#222")
            .text("UMAP_2");
    }

    // Cluster labels
    cellTypes.forEach((name, k) => {
        const lines = (name === "Oligo\u2212precursor" && p.twoLine) ? ["Oligo", "precursor"] : [name];
        lines.forEach((t, n) => {
            const lbl = g.append("text")
                .attr("x", x(p.lx[k]))
                .attr("y", y(p.ly[k]) + 3 + (n - (lines.length - 1) / 2) * 11)
                .attr("text-anchor", "middle")
                .attr("font-size", 8.6)
                .attr("font-weight", "bold")
                .text(t);
            if (p.ghost) {
                lbl.attr("fill", "#fff").attr("stroke", "#b5b5b5").attr("stroke-width", 0.3);
            } else {
                lbl.attr("fill", "#1c1c1c");
            }
        });
    });

    // Legend
    legendNames.forEach((name, k) => {
        g.append("circle")
            .attr("cx", 20)
            .attr("cy", 20.3 + k * 14)
            .attr("r", 4)
            .attr("fill", k === 0 ? colorVeh : colorHdaci);
        const t = g.append("text")
            .attr("x", 33)
            .attr("y", 23.8 + k * 14)
            .attr("font-size", 10)
            .attr("font-weight", "bold")
            .text(name);
        if (k === 1 && p.ghostLegend) {
            t.attr("fill", "#fff").attr("stroke", "#b5b5b5").attr("stroke-width", 0.3);
        } else {
            t.attr("fill", "#222");
        }
    });
});
</script>
</body>
</html>
